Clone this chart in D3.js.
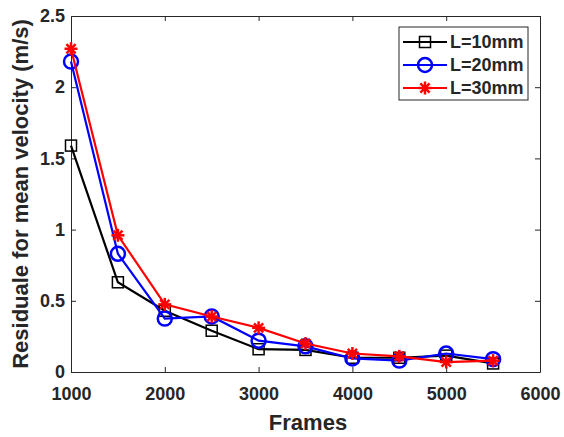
<!DOCTYPE html>
<html>
<head>
<meta charset="utf-8">
<script src="https://cdn.jsdelivr.net/npm/d3@7"></script>
<style>
  body { margin: 0; background: #fff; }
  text { font-family: "Liberation Sans", Arial, sans-serif; font-weight: bold; fill: #262626; }
</style>
</head>
<body>
<svg id="chart" width="564" height="437"></svg>
<script>
// values
var frames = [1000, 1500, 2000, 2500, 3000, 3500, 4000, 4500, 5000, 5500];
var l10 = [1.59, 0.63, 0.43, 0.29, 0.16, 0.155, 0.10, 0.10, 0.115, 0.06];
var l20 = [2.18, 0.83, 0.375, 0.39, 0.22, 0.18, 0.095, 0.08, 0.13, 0.09];
var l30 = [2.27, 0.96, 0.475, 0.39, 0.31, 0.20, 0.13, 0.11, 0.07, 0.08];
var seriesNames = ["L=10mm", "L=20mm", "L=30mm"];
var xTicks = [1000, 2000, 3000, 4000, 5000, 6000];
var yTicks = [0, 0.5, 1, 1.5, 2, 2.5];

var colors = ["#000000", "#0000ff", "#ff0000"];
var markers = ["square", "circle", "star"];
var series = [l10, l20, l30];

var svg = d3.select("#chart"),
    pLeft = 71, pRight = 540, pTop = 16, pBottom = 372,
    axisColor = "#262626";

var x = d3.scaleLinear().domain([1000, 6000]).range([pLeft, pRight]);
var y = d3.scaleLinear().domain([0, 2.5]).range([pBottom, pTop]);

// axes (ticks point inward, box on all sides)
svg.append("g").attr("transform", "translate(0," + pBottom + ")")
    .call(d3.axisBottom(x).tickValues(xTicks).tickFormat(d3.format("d"))
        .tickSizeInner(-5).tickSizeOuter(0).tickPadding(15));
svg.append("g").attr("transform", "translate(" + pLeft + ",0)")
    .call(d3.axisLeft(y).tickValues(yTicks).tickFormat(d3.format(""))
        .tickSizeInner(-5).tickSizeOuter(0).tickPadding(6));
svg.append("g").attr("transform", "translate(0," + pTop + ")")
    .call(d3.axisTop(x).tickValues(xTicks).tickSizeInner(-5).tickSizeOuter(0).tickFormat(""));
svg.append("g").attr("transform", "translate(" + pRight + ",0)")
    .call(d3.axisRight(y).tickValues(yTicks).tickSizeInner(-5).tickSizeOuter(0).tickFormat(""));

svg.selectAll(".domain, .tick line").attr("stroke", axisColor);
svg.selectAll(".tick text").style("font-size", "18px").attr("fill", axisColor);

svg.append("text").attr("x", 308).attr("y", 430)
    .attr("text-anchor", "middle").style("font-size", "22px").text("Frames");
svg.append("text").attr("transform", "translate(28,194) rotate(-90)")
    .attr("text-anchor", "middle").style("font-size", "22px").text("Residuale for mean velocity (m/s)");

function drawMarker(g, kind, color) {
    if (kind === "square") {
        g.append("rect").attr("x", -5.5).attr("y", -5.5).attr("width", 11).attr("height", 11)
            .attr("fill", "none").attr("stroke", color).attr("stroke-width", 1.5);
    } else if (kind === "circle") {
        g.append("circle").attr("r", 7).attr("fill", "none").attr("stroke", color).attr("stroke-width", 2.5);
    } else {
        var r = 6.5, a;
        for (a = 0; a < 4; a += 1) {
            var t = a * Math.PI / 4;
            g.append("line").attr("x1", -r * Math.cos(t)).attr("y1", -r * Math.sin(t))
                .attr("x2", r * Math.cos(t)).attr("y2", r * Math.sin(t))
                .attr("stroke", color).attr("stroke-width", 2.5);
        }
    }
}

var line = d3.line().x(function (d) { return x(d[0]); }).y(function (d) { return y(d[1]); });

series.forEach(function (vals, i) {
    var pts = frames.map(function (f, j) { return [f, vals[j]]; });
    svg.append("path").datum(pts).attr("d", line)
        .attr("fill", "none").attr("stroke", colors[i]).attr("stroke-width", 2.2);
    pts.forEach(function (p) {
        var g = svg.append("g").attr("transform", "translate(" + x(p[0]) + "," + y(p[1]) + ")");
        drawMarker(g, markers[i], colors[i]);
    });
});

// legend
var lg = svg.append("g");
lg.append("rect").attr("x", 399).attr("y", 27).attr("width", 129).attr("height", 73)
    .attr("fill", "#fff").attr("stroke", axisColor).attr("stroke-width", 1);
seriesNames.forEach(function (name, i) {
    var yy = 42 + i * 23;
    lg.append("line").attr("x1", 403).attr("x2", 447).attr("y1", yy).attr("y2", yy)
        .attr("stroke", colors[i]).attr("stroke-width", 2.2);
    drawMarker(lg.append("g").attr("transform", "translate(425," + yy + ")"), markers[i], colors[i]);
    lg.append("text").attr("x", 450).attr("y", yy + 6).style("font-size", "18px").attr("fill", "#000").text(name);
});
</script>
</body>
</html>
